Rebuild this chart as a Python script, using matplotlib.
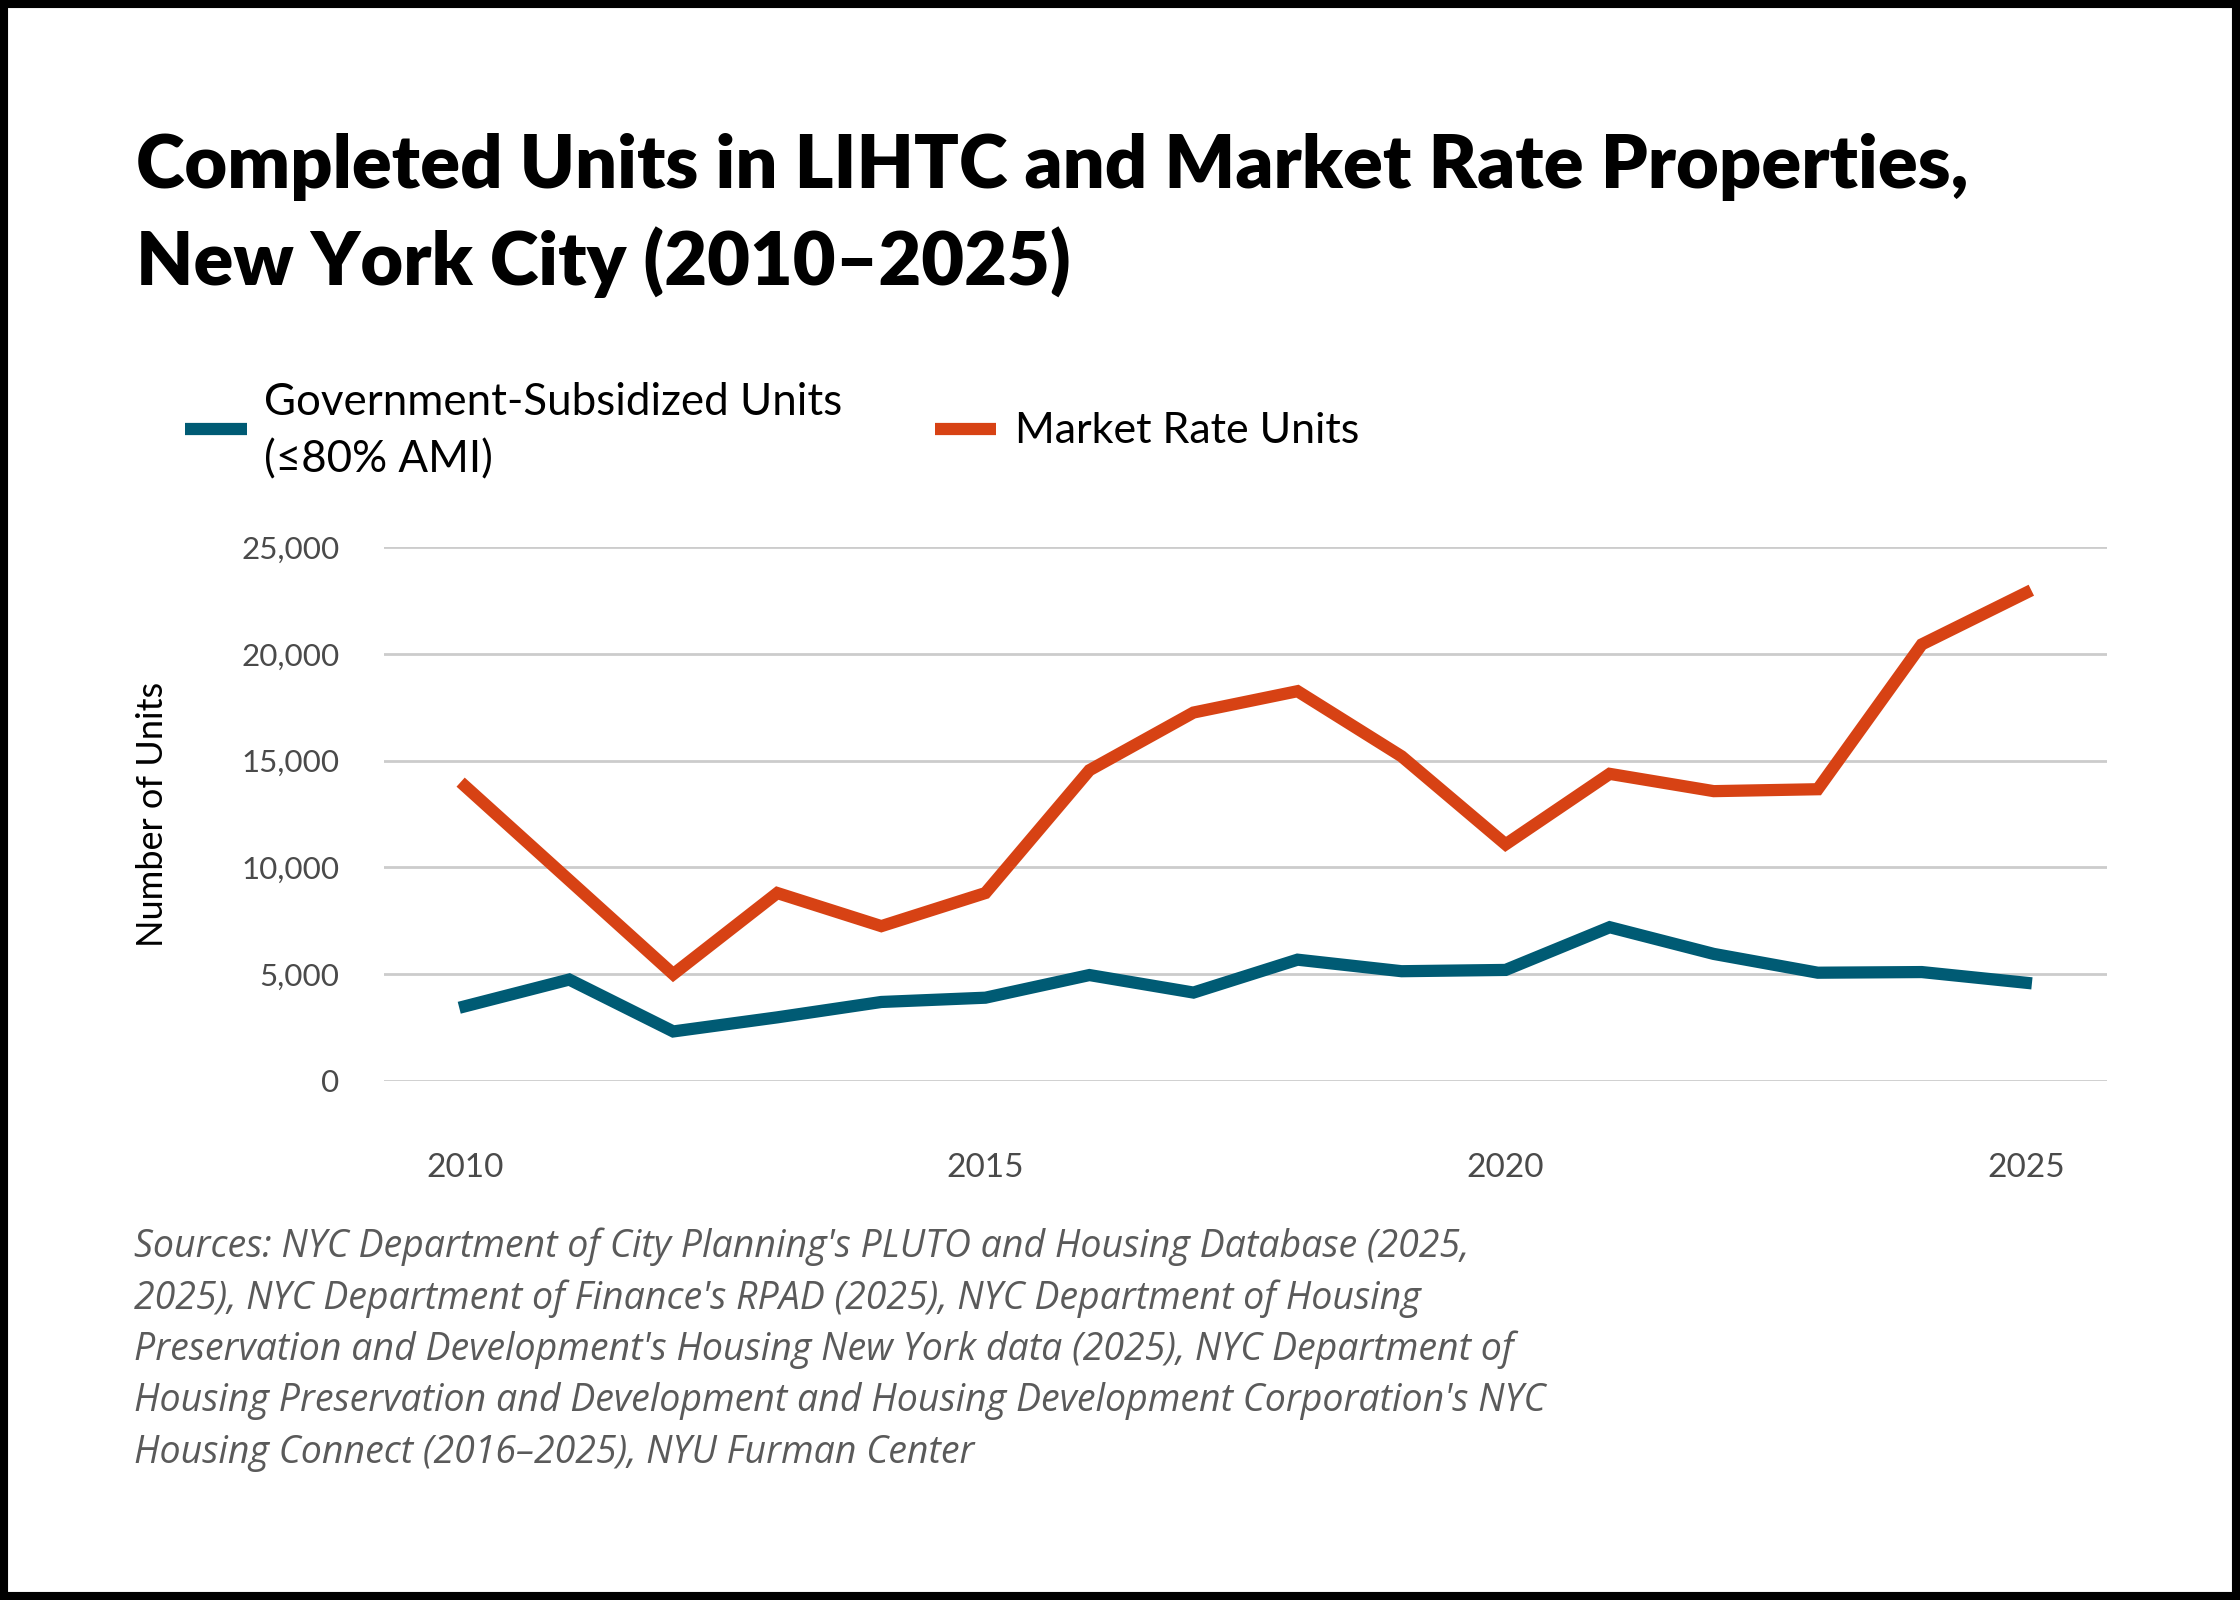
import numpy as np
import matplotlib.pyplot as plt
from matplotlib.lines import Line2D
from matplotlib.patches import Rectangle
from matplotlib.ticker import FuncFormatter

# ----- Data -----
years = [2010, 2011, 2012, 2013, 2014, 2015, 2016, 2017,
         2018, 2019, 2020, 2021, 2022, 2023, 2024, 2025]
subsidized = [3500, 4750, 2320, 2980, 3700, 3900, 4960, 4140,
              5680, 5140, 5200, 7200, 5950, 5070, 5100, 4600]
market_rate = [13800, 9400, 5000, 8800, 7250, 8800, 14550, 17250,
               18250, 15200, 11080, 14380, 13570, 13660, 20440, 22850]

y_ticks = [0, 5000, 10000, 15000, 20000, 25000]
x_ticks = [2010, 2015, 2020, 2025]

title_lines = ["Completed Units in LIHTC and Market Rate Properties,",
               "New York City (2010\u20132025)"]
legend_labels = [["Government-Subsidized Units", "(\u226480% AMI)"],
                 ["Market Rate Units"]]
source_lines = [
    "Sources: NYC Department of City Planning's PLUTO and Housing Database (2025,",
    "2025), NYC Department of Finance's RPAD (2025), NYC Department of Housing",
    "Preservation and Development's Housing New York data (2025), NYC Department of",
    "Housing Preservation and Development and Housing Development Corporation's NYC",
    "Housing Connect (2016\u20132025), NYU Furman Center",
]

BLUE = "#005b74"
RED = "#d74214"
W, H = 2240, 1600

plt.rcParams['font.family'] = ['Lato', 'DejaVu Sans']

fig = plt.figure(figsize=(11.2, 8), dpi=200)
fig.patch.set_facecolor("white")

def fx(px):
    return px / W

def fy(px):
    return 1 - px / H

# ----- Axes -----
ax = fig.add_axes([fx(384), fy(1081), fx(2107) - fx(384), fy(547) - fy(1081)])
ax.plot(years, subsidized, color=BLUE, lw=4.4, solid_joinstyle="miter", clip_on=False)
ax.plot(years, market_rate, color=RED, lw=4.4, solid_joinstyle="miter", clip_on=False)

ax.set_xlim(2009.22, 2025.78)
ax.set_ylim(0, 25000)
ax.set_yticks(y_ticks)
ax.set_xticks(x_ticks)
ax.yaxis.set_major_formatter(FuncFormatter(lambda v, p: f"{int(v):,}"))
ax.grid(axis="y", color="#cccccc", lw=1.0)
ax.set_axisbelow(True)
for s in ax.spines.values():
    s.set_visible(False)
ax.tick_params(axis="both", length=0, labelsize=11.3, labelcolor="#4a4a4a")
ax.tick_params(axis="x", labelsize=12, pad=26)
ax.tick_params(axis="y", pad=16)
ax.set_ylabel("Number of Units", fontsize=13, color="black", labelpad=26)

# ----- Title -----
fig.text(fx(136), fy(188), title_lines[0], fontsize=26.6, fontweight="heavy",
         va="baseline", ha="left")
fig.text(fx(136), fy(285), title_lines[1], fontsize=26.6, fontweight="heavy",
         va="baseline", ha="left")

# ----- Legend -----
fig.add_artist(Line2D([fx(185), fx(247)], [fy(429), fy(429)], color=BLUE, lw=4.4,
                      solid_capstyle="butt"))
fig.text(fx(264), fy(415), legend_labels[0][0], fontsize=15.8, va="baseline")
fig.text(fx(264), fy(472), legend_labels[0][1], fontsize=15.8, va="baseline")
fig.add_artist(Line2D([fx(935), fx(996)], [fy(429), fy(429)], color=RED, lw=4.4,
                      solid_capstyle="butt"))
fig.text(fx(1015), fy(443), legend_labels[1][0], fontsize=15.5, va="baseline")

# ----- Source note -----
for i, line in enumerate(source_lines):
    fig.text(fx(134), fy(1257 + 51.5 * i), line, fontsize=13.5, style="italic",
             family=["Open Sans", "DejaVu Sans"], color="#5a5a5a", va="baseline")

# ----- Frame -----
fig.add_artist(Rectangle((0, 0), 1, 1, transform=fig.transFigure, fill=False,
                         ec="black", lw=5.8))

fig.savefig("out.png", dpi=200, facecolor="white")
